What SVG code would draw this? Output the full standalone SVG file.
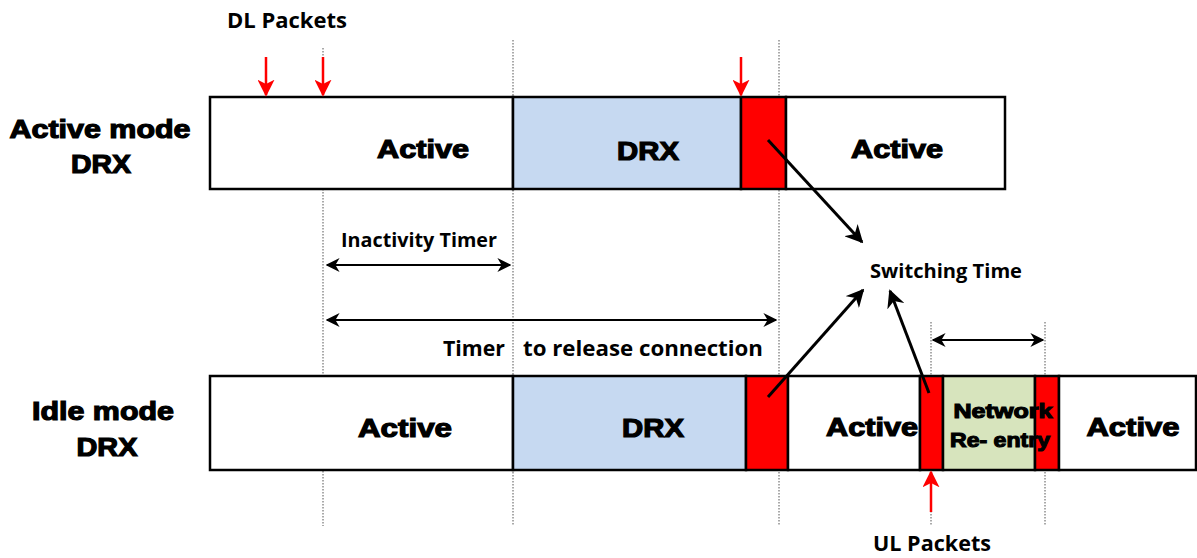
<svg xmlns="http://www.w3.org/2000/svg" width="1197" height="558" viewBox="0 0 1197 558">
<style>
.bar{stroke:#000;stroke-width:2.5}
.big{font-family:"Liberation Sans",Arial,sans-serif;font-weight:bold;font-size:26px;fill:#000;stroke:#000;stroke-width:1.2;text-anchor:middle}
.lbl{font-family:"Open Sans","Liberation Sans",sans-serif;font-weight:bold;font-size:21px;fill:#000}
.dot{stroke:#555;stroke-width:1;stroke-dasharray:1.5 1.5;fill:none}
.red{stroke:#f00;stroke-width:2.5;fill:none}
.blk{stroke:#000;stroke-width:3;fill:none}
.dim{stroke:#000;stroke-width:2;fill:none}
</style>
<defs>
<marker id="rh" viewBox="0 0 10 10" refX="9" refY="5" markerWidth="17" markerHeight="17" markerUnits="userSpaceOnUse" orient="auto"><path d="M0,0 L10,5 L0,10 L2.5,5 z" fill="#f00"/></marker>
<marker id="bh" viewBox="0 0 10 10" refX="9" refY="5" markerWidth="6" markerHeight="6" orient="auto"><path d="M0,0 L10,5 L0,10 L3,5 z" fill="#000"/></marker>
<marker id="dh" viewBox="0 0 10 10" refX="9" refY="5" markerWidth="7" markerHeight="7" orient="auto-start-reverse"><path d="M0,0 L10,5 L0,10 L3,5 z" fill="#000"/></marker>
</defs>
<rect width="1197" height="558" fill="#fff"/>

<g id="guides">
<line class="dot" x1="323" y1="48" x2="323" y2="526"/>
<line class="dot" x1="513" y1="40" x2="513" y2="526"/>
<line class="dot" x1="779" y1="40" x2="779" y2="526"/>
<line class="dot" x1="931" y1="322" x2="931" y2="526"/>
<line class="dot" x1="1045" y1="322" x2="1045" y2="526"/>
</g>

<g id="active-row">
<rect id="a-active1" class="bar" x="210" y="97" width="303" height="92" fill="#fff"/>
<rect id="a-drx" class="bar" x="513" y="97" width="228" height="92" fill="#c6d9f1"/>
<rect id="a-red" class="bar" x="741" y="97" width="45" height="92" fill="#f00"/>
<rect id="a-active2" class="bar" x="786" y="97" width="219" height="92" fill="#fff"/>
<text class="big" x="423" y="158" textLength="92" lengthAdjust="spacingAndGlyphs">Active</text>
<text class="big" x="648" y="160" textLength="62" lengthAdjust="spacingAndGlyphs">DRX</text>
<text class="big" x="897" y="158" textLength="92" lengthAdjust="spacingAndGlyphs">Active</text>
</g>

<g id="idle-row">
<rect id="i-active1" class="bar" x="210" y="376" width="303" height="94" fill="#fff"/>
<rect id="i-drx" class="bar" x="513" y="376" width="233" height="94" fill="#c6d9f1"/>
<rect id="i-red1" class="bar" x="746" y="376" width="42" height="94" fill="#f00"/>
<rect id="i-active2" class="bar" x="788" y="376" width="132" height="94" fill="#fff"/>
<rect id="i-red2" class="bar" x="920" y="376" width="23" height="94" fill="#f00"/>
<rect id="i-net" class="bar" x="943" y="376" width="92" height="94" fill="#d7e4bd"/>
<rect id="i-red3" class="bar" x="1035" y="376" width="24" height="94" fill="#f00"/>
<rect id="i-active3" class="bar" x="1059" y="376" width="137" height="94" fill="#fff"/>
<text class="big" x="405" y="437" textLength="94" lengthAdjust="spacingAndGlyphs">Active</text>
<text class="big" x="653" y="437" textLength="62" lengthAdjust="spacingAndGlyphs">DRX</text>
<text class="big" x="872" y="436" textLength="92" lengthAdjust="spacingAndGlyphs">Active</text>
<text class="big" x="1003" y="418" style="font-size:21px" textLength="99" lengthAdjust="spacingAndGlyphs">Network</text>
<text class="big" x="1000" y="447" style="font-size:21px" textLength="100" lengthAdjust="spacingAndGlyphs">Re- entry</text>
<text class="big" x="1133" y="436" textLength="93" lengthAdjust="spacingAndGlyphs">Active</text>
</g>

<g id="row-labels">
<text class="big" x="100" y="138" textLength="181" lengthAdjust="spacingAndGlyphs">Active mode</text>
<text class="big" x="101" y="173" textLength="60" lengthAdjust="spacingAndGlyphs">DRX</text>
<text class="big" x="103" y="420" textLength="142" lengthAdjust="spacingAndGlyphs">Idle mode</text>
<text class="big" x="107" y="456" textLength="61" lengthAdjust="spacingAndGlyphs">DRX</text>
</g>

<g id="labels">
<text class="lbl" x="227" y="28" textLength="120" lengthAdjust="spacingAndGlyphs">DL Packets</text>
<text class="lbl" x="341" y="247" style="font-size:19px" textLength="156" lengthAdjust="spacingAndGlyphs">Inactivity Timer</text>
<text class="lbl" x="443" y="356" style="font-size:22px" textLength="62" lengthAdjust="spacingAndGlyphs">Timer</text>
<text class="lbl" x="523" y="356" style="font-size:22px" textLength="240" lengthAdjust="spacingAndGlyphs">to release connection</text>
<text class="lbl" x="870" y="278" style="font-size:19px" textLength="152" lengthAdjust="spacingAndGlyphs">Switching Time</text>
<text class="lbl" x="873" y="551" style="font-size:22px" textLength="118" lengthAdjust="spacingAndGlyphs">UL Packets</text>
</g>

<g id="connectors">
<line class="red" x1="266" y1="57" x2="266" y2="95" marker-end="url(#rh)"/>
<line class="red" x1="323" y1="57" x2="323" y2="95" marker-end="url(#rh)"/>
<line class="red" x1="741" y1="57" x2="741" y2="95" marker-end="url(#rh)"/>
<line class="red" x1="931" y1="512" x2="931" y2="472" marker-end="url(#rh)"/>
<line class="blk" x1="768" y1="140" x2="862" y2="242" marker-end="url(#bh)"/>
<line class="blk" x1="768" y1="397" x2="863" y2="290" marker-end="url(#bh)"/>
<line class="blk" x1="929" y1="393" x2="890" y2="291" marker-end="url(#bh)"/>
<line class="dim" x1="327" y1="265" x2="510" y2="265" marker-start="url(#dh)" marker-end="url(#dh)"/>
<line class="dim" x1="327" y1="320" x2="776" y2="320" marker-start="url(#dh)" marker-end="url(#dh)"/>
<line class="dim" x1="933" y1="340" x2="1043" y2="340" marker-start="url(#dh)" marker-end="url(#dh)"/>
</g>
</svg>
